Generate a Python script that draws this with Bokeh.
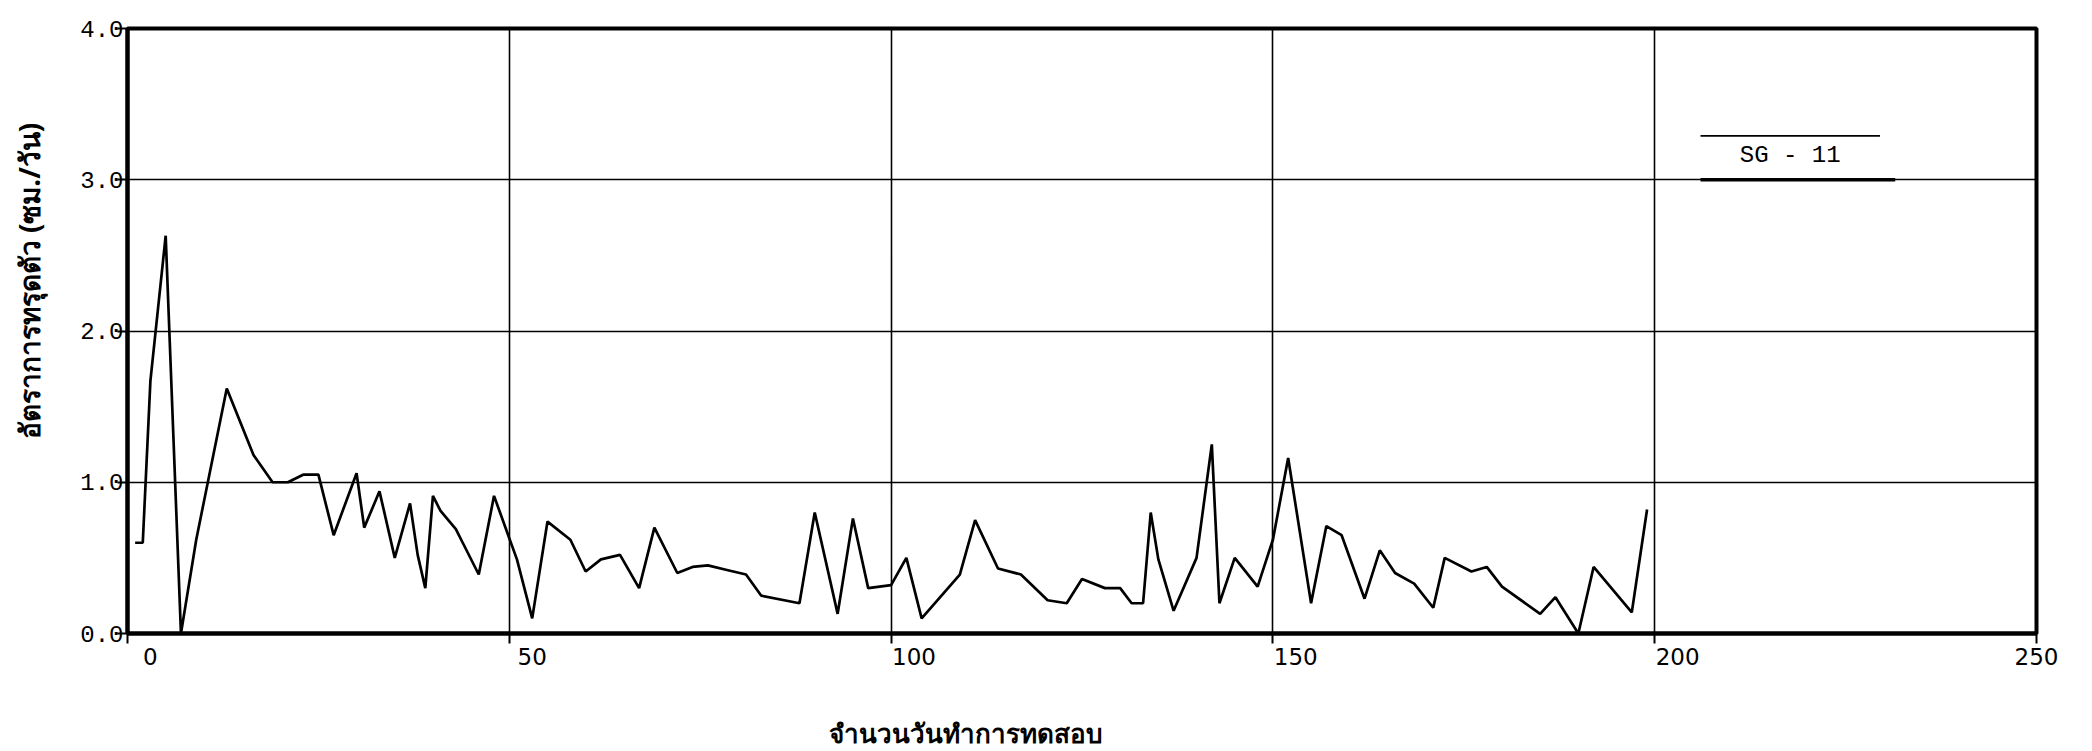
import math

from bokeh.core.properties import value
from bokeh.embed import file_html
from bokeh.layouts import column, row
from bokeh.models import ColumnDataSource, FixedTicker, Label, LinearAxis, Range1d
from bokeh.plotting import figure
from bokeh.resources import INLINE

# Settlement rate per test day, station SG-11
days = [1, 2, 3, 5, 7, 9, 13, 16.5, 19, 21, 23, 25, 27, 30, 31, 33, 35, 37, 38, 39,
        40, 41, 43, 44, 46, 48, 51, 53, 55, 58, 60, 62, 64.5, 67, 69, 72, 74, 76,
        78.5, 81, 83, 88, 90, 93, 95, 97, 100, 102, 104, 109, 111, 114, 117, 120.5,
        123, 125, 128, 130, 131.5, 133, 134, 135, 137, 140, 142, 143, 145, 148, 150,
        152, 155, 157, 159, 162, 164, 166, 168.5, 171, 172.5, 176, 178, 180, 185,
        187, 190, 192, 197, 199]
rates = [0.60, 0.60, 1.67, 2.63, 0.00, 0.62, 1.62, 1.18, 1.00, 1.00, 1.05, 1.05,
         0.65, 1.06, 0.70, 0.94, 0.50, 0.86, 0.52, 0.30, 0.91, 0.81, 0.69, 0.59,
         0.39, 0.91, 0.49, 0.10, 0.74, 0.62, 0.41, 0.49, 0.52, 0.30, 0.70, 0.40,
         0.44, 0.45, 0.42, 0.39, 0.25, 0.20, 0.80, 0.13, 0.76, 0.30, 0.32, 0.50,
         0.10, 0.39, 0.75, 0.43, 0.39, 0.22, 0.20, 0.36, 0.30, 0.30, 0.20, 0.20,
         0.80, 0.49, 0.15, 0.50, 1.25, 0.20, 0.50, 0.31, 0.62, 1.16, 0.20, 0.71,
         0.65, 0.23, 0.55, 0.40, 0.33, 0.17, 0.50, 0.41, 0.44, 0.31, 0.13, 0.24,
         0.00, 0.44, 0.14, 0.82]

x_ticks = [0, 50, 100, 150, 200, 250]
y_ticks = [0, 1, 2, 3, 4]
y_tick_labels = ["0.0", "1.0", "2.0", "3.0", "4.0"]

series_name = "SG - 11"
x_title = "จำนวนวันทำการทดสอบ"
y_title = "อัตราการทรุดตัว (ซม./วัน)"

# page geometry (px)
PAGE_W, PAGE_H = 2092, 751
STRIP_W = 60            # column holding the rotated y title
MAIN_H = 690            # chart height, title strip goes underneath
TITLE_FONT = value("Noto Sans")

X_MIN, X_MAX = 0, 250
LABEL_SHIFT = 3.0  # day numbers sit a little to the right of their ticks

p = figure(
    width=PAGE_W - STRIP_W, height=MAIN_H,
    output_backend="svg", toolbar_location=None,
    x_range=Range1d(X_MIN, X_MAX), y_range=Range1d(0, 4),
    min_border_left=127 - STRIP_W, min_border_right=56,
    min_border_top=28, min_border_bottom=MAIN_H - 633,
    background_fill_color="white", border_fill_color="white",
)

# frame
p.outline_line_color = "black"
p.outline_line_width = 4
p.outline_line_alpha = 1.0

# grid
p.xgrid.ticker = FixedTicker(ticks=x_ticks)
p.ygrid.ticker = FixedTicker(ticks=y_ticks)
for g in (p.xgrid, p.ygrid):
    g.grid_line_color = "black"
    g.grid_line_width = 1.6
    g.grid_line_alpha = 1.0

# axes
p.xaxis.ticker = FixedTicker(ticks=x_ticks)
p.yaxis.ticker = FixedTicker(ticks=y_ticks)
p.yaxis.major_label_overrides = {t: s for t, s in zip(y_ticks, y_tick_labels)}
p.xaxis.major_label_overrides = {t: "" for t in x_ticks}
p.xaxis.major_label_standoff = 0
for ax in (p.xaxis, p.yaxis):
    ax.axis_line_color = "black"
    ax.axis_line_width = 4
    ax.major_tick_line_color = "black"
    ax.major_tick_line_width = 2
    ax.major_tick_in = 0
    ax.major_tick_out = 10
    ax.minor_tick_line_color = None
    ax.major_label_text_color = "black"

p.yaxis.major_label_text_font = "Liberation Mono"
p.yaxis.major_label_text_font_size = "24px"
p.yaxis.major_label_standoff = -6

# day numbers on a label-only axis, offset right of the tick marks
p.extra_x_ranges = {"labels": Range1d(X_MIN - LABEL_SHIFT, X_MAX - LABEL_SHIFT)}
label_pos = [min(t, X_MAX - LABEL_SHIFT) for t in x_ticks]
label_axis = LinearAxis(
    x_range_name="labels", ticker=FixedTicker(ticks=label_pos),
    major_label_overrides={pos: str(t) for pos, t in zip(label_pos, x_ticks)},
    axis_line_color=None, major_tick_line_color=None, minor_tick_line_color=None,
    major_tick_in=0, major_tick_out=0, major_label_standoff=4,
    major_label_text_font="DejaVu Sans", major_label_text_font_size="23px",
    major_label_text_color="black",
)
p.add_layout(label_axis, "below")

# data line
src = ColumnDataSource(data=dict(day=days, rate=rates))
p.line("day", "rate", source=src, line_color="black", line_width=2.7)

# series tag in the upper right
tag_x0, tag_x1, tag_x1b = 206, 229.5, 231.5
p.segment(x0=[tag_x0], y0=[3.29], x1=[tag_x1], y1=[3.29],
          line_color="black", line_width=1.8)
p.segment(x0=[tag_x0], y0=[3.0], x1=[tag_x1b], y1=[3.0],
          line_color="black", line_width=3.5)
p.add_layout(Label(x=(tag_x0 + tag_x1) / 2, y=3.16, text=series_name,
                   text_align="center", text_baseline="middle",
                   text_font="Liberation Mono", text_font_size="24px",
                   text_color="black"))


def title_strip(w, h):
    """Blank figure in pixel units used to hold an axis title."""
    f = figure(width=w, height=h, output_backend="svg", toolbar_location=None,
               x_range=Range1d(0, w), y_range=Range1d(0, h),
               x_axis_type=None, y_axis_type=None,
               min_border=0, outline_line_color=None,
               background_fill_color="white", border_fill_color="white")
    f.xgrid.visible = False
    f.ygrid.visible = False
    return f


# y title, rotated, to the left of the chart
left = title_strip(STRIP_W, MAIN_H)
left.text(x=[28], y=[MAIN_H - 288], text=[y_title], angle=math.pi / 2,
          text_align="center", text_baseline="middle",
          text_font=TITLE_FONT, text_font_size="28px", text_font_style="bold",
          text_color="black")

# x title underneath
bottom_h = PAGE_H - MAIN_H
bottom = title_strip(PAGE_W, bottom_h)
bottom.text(x=[965], y=[PAGE_H - 732], text=[x_title],
            text_align="center", text_baseline="middle",
            text_font=TITLE_FONT, text_font_size="26px", text_font_style="bold",
            text_color="black")

layout = column(row(left, p, spacing=0), bottom, spacing=0)

open("out.html", "w").write(file_html(layout, INLINE))
